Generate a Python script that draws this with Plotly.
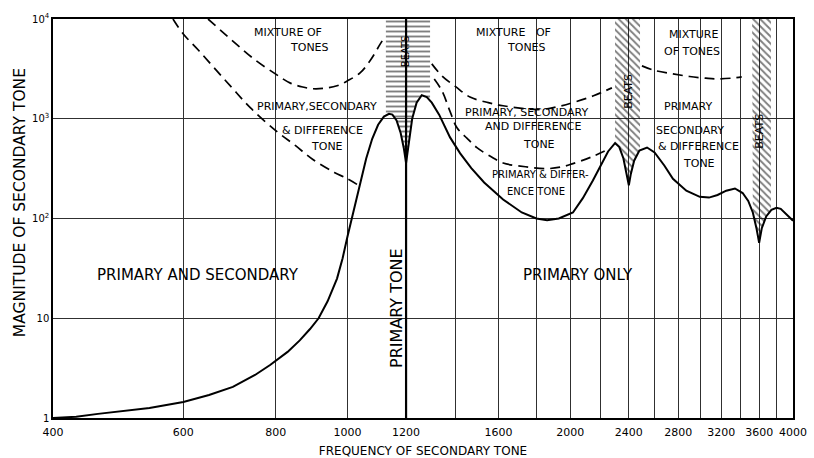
import numpy as np
import plotly.graph_objects as go

# ---------------- data ----------------
# Masking curve (solid): frequency of secondary tone (Hz) vs magnitude
SOLID_F = [400, 430, 460, 500, 540, 600, 650, 700, 750, 786, 830, 862, 890, 914, 940, 968,
           985, 1000, 1015, 1030, 1045, 1060, 1080, 1100, 1120, 1138, 1150, 1165, 1180, 1192,
           1200, 1207, 1214, 1223, 1240, 1260, 1280, 1300, 1330, 1376, 1420, 1470, 1530, 1623,
           1720, 1800, 1861, 1930, 2017, 2080, 2146, 2200, 2250, 2299, 2330, 2360, 2385, 2400,
           2415, 2440, 2480, 2540, 2600, 2680, 2753, 2870, 2993, 3080, 3163, 3250, 3339, 3420,
           3480, 3530, 3570, 3600, 3630, 3680, 3740, 3800, 3850, 3920, 4000]
SOLID_M = [1.0, 1.03, 1.1, 1.17, 1.26, 1.45, 1.7, 2.05, 2.7, 3.4, 4.6, 6.0, 7.8, 10, 14.8, 25,
           40, 66, 105, 166, 263, 400, 630, 870, 1050, 1120, 1100, 960, 720, 500,
           360, 480, 650, 1000, 1450, 1720, 1650, 1450, 1100, 650, 450, 320, 230, 155,
           115, 100, 96, 100, 115, 160, 240, 340, 470, 570, 520, 400, 280, 215,
           280, 380, 480, 515, 460, 340, 250, 190, 165, 162, 172, 190, 200, 180,
           150, 115, 80, 57, 80, 105, 122, 128, 125, 110, 95]

# Dashed boundaries
MIX_LEFT_F = [648, 700, 750, 800, 836, 870, 898, 930, 968, 1000, 1040, 1075, 1107, 1118]
MIX_LEFT_M = [10000, 6000, 3900, 2800, 2290, 2080, 2000, 2020, 2140, 2400, 2880, 3900, 5600, 6300]

PSD_LEFT_F = [581, 600, 630, 666, 700, 739, 800, 850, 898, 960, 1000, 1035]
PSD_LEFT_M = [10000, 7080, 4800, 3020, 2000, 1290, 760, 540, 390, 290, 250, 215]

MIX_MID_F = [1300, 1342, 1400, 1464, 1550, 1623, 1720, 1830, 1930, 2017, 2150, 2277]
MIX_MID_M = [3550, 2690, 2100, 1650, 1450, 1350, 1270, 1240, 1330, 1450, 1700, 2040]

PSD_MID_F = [1310, 1342, 1375, 1406, 1450, 1496, 1560, 1623, 1740, 1861, 1950, 2017, 2130, 2260]
PSD_MID_M = [2500, 1900, 1200, 813, 640, 513, 420, 360, 330, 316, 330, 355, 410, 500]

MIX_RIGHT_F = [2500, 2600, 2753, 2900, 3050, 3150, 3300, 3410]
MIX_RIGHT_M = [3390, 3050, 2820, 2650, 2550, 2510, 2550, 2630]

# "Beats" bands (frequency limits)
BEAT_BANDS = [(1127, 1293), (2299, 2485), (3522, 3735)]
BEAT_PATTERNS = ["-", "\\", "\\"]

PRIMARY_FREQ = 1200

X_TICKS = [400, 600, 800, 1000, 1200, 1600, 2000, 2400, 2800, 3200, 3600, 4000]
X_TICK_TEXT = ["400", "600", "800", "1000", "1200", "1600", "2000", "2400",
               "2800", "3200", "3600", "4000"]
X_MINOR_GRID = [1400, 1800, 2200, 2600, 3000, 3400, 3800]
Y_TICKS = [1, 10, 100, 1000, 10000]
Y_TICK_TEXT = ["1", "10", "10<sup>2</sup>", "10<sup>3</sup>", "10<sup>4</sup>"]

FONT = "DejaVu Sans"

# ---------------- figure ----------------
fig = go.Figure()


def curve_at(f):
    return 10 ** np.interp(np.log10(f), np.log10(SOLID_F), np.log10(SOLID_M))


# hatched beat regions
for (fl, fr), pat in zip(BEAT_BANDS, BEAT_PATTERNS):
    inner = [f for f in SOLID_F if fl < f < fr]
    xs = [fl, fl] + inner + [fr, fr, fl]
    ys = [10000, curve_at(fl)] + [curve_at(f) for f in inner] + [curve_at(fr), 10000, 10000]
    fig.add_trace(go.Scatter(
        x=xs, y=ys, mode="lines", fill="toself",
        fillcolor="rgba(255,255,255,0)",
        fillpattern=dict(shape=pat, fgcolor="black", bgcolor="rgba(255,255,255,0)",
                         size=5, solidity=0.38),
        line=dict(width=0, color="rgba(0,0,0,0)"),
        hoverinfo="skip", showlegend=False))

# primary tone line
fig.add_trace(go.Scatter(x=[PRIMARY_FREQ, PRIMARY_FREQ], y=[1, 10000], mode="lines",
                         line=dict(color="black", width=2.2), showlegend=False,
                         hoverinfo="skip"))

# dashed boundaries
for fx, my in [(MIX_LEFT_F, MIX_LEFT_M), (PSD_LEFT_F, PSD_LEFT_M), (MIX_MID_F, MIX_MID_M),
               (PSD_MID_F, PSD_MID_M), (MIX_RIGHT_F, MIX_RIGHT_M)]:
    fig.add_trace(go.Scatter(x=fx, y=my, mode="lines", line_shape="spline",
                             line=dict(color="black", width=1.7, dash="10px,6px"),
                             showlegend=False))

# masking curve
fig.add_trace(go.Scatter(x=SOLID_F, y=SOLID_M, mode="lines",
                         line=dict(color="black", width=2.0), showlegend=False))

# ---------------- annotations (x: log10 Hz, y: log10 magnitude) ----------------
labels = [
    ("MIXTURE OF", 2.920, 3.86, 11, 0),
    ("TONES", 2.949, 3.71, 11, 0),
    ("PRIMARY,SECONDARY", 2.959, 3.12, 11, 0),
    ("&amp; DIFFERENCE", 2.966, 2.88, 11, 0),
    ("TONE", 2.972, 2.72, 11, 0),
    ("MIXTURE   OF", 3.225, 3.86, 11, 0),
    ("TONES", 3.2425, 3.71, 11, 0),
    ("PRIMARY, SECONDARY", 3.2425, 3.06, 11, 0),
    ("AND DIFFERENCE", 3.251, 2.92, 11, 0),
    ("TONE", 3.2585, 2.74, 11, 0),
    ("PRIMARY &amp; DIFFER-", 3.2615, 2.44, 10, 0),
    ("ENCE TONE", 3.2545, 2.27, 10, 0),
    ("MIXTURE", 3.468, 3.84, 11, 0),
    ("OF TONES", 3.465, 3.67, 11, 0),
    ("PRIMARY", 3.460, 3.12, 11, 0),
    ("SECONDARY", 3.463, 2.88, 11, 0),
    ("&amp; DIFFERENCE", 3.474, 2.72, 11, 0),
    ("TONE", 3.475, 2.55, 11, 0),
    ("PRIMARY AND SECONDARY", 2.7986, 1.43, 15, 0),
    ("PRIMARY ONLY", 3.3115, 1.43, 15, 0),
    ("PRIMARY TONE", 3.0669, 1.103, 16, -90),
    ("BEATS", 3.0795, 3.68, 10, -90),
    ("BEATS", 3.3805, 3.27, 11, -90),
    ("BEATS", 3.5575, 2.87, 11, -90),
]
for txt, lx, ly, sz, ang in labels:
    fig.add_annotation(x=lx, y=ly, xref="x", yref="y", text=txt, showarrow=False,
                       textangle=ang, font=dict(family=FONT, size=sz, color="black"))

# y-axis title as annotation
fig.add_annotation(x=-0.0446, y=0.541, xref="paper", yref="paper",
                   text="MAGNITUDE OF SECONDARY TONE", showarrow=False, textangle=-90,
                   xanchor="center", yanchor="middle",
                   font=dict(family=FONT, size=15.5, color="black"))

fig.update_layout(
    width=814, height=458,
    margin=dict(l=53, r=21, t=19, b=40),
    paper_bgcolor="white", plot_bgcolor="white",
    showlegend=False,
    font=dict(family=FONT, color="black"),
    xaxis=dict(type="log", range=[np.log10(400), np.log10(4000)],
               tickvals=X_TICKS, ticktext=X_TICK_TEXT, ticks="", automargin=False,
               ticklabelstandoff=3,
               showgrid=True, gridcolor="#303030", gridwidth=1,
               minor=dict(tickvals=X_MINOR_GRID, showgrid=True, gridcolor="#303030",
                          gridwidth=1, ticks=""),
               showline=True, linecolor="black", linewidth=1.5, mirror=True,
               zeroline=False, tickfont=dict(size=11, family=FONT),
               title=dict(text="FREQUENCY OF SECONDARY TONE", standoff=10,
                          font=dict(size=12, family=FONT))),
    yaxis=dict(type="log", range=[0, 4], automargin=False,
               tickvals=Y_TICKS, ticktext=Y_TICK_TEXT, ticks="",
               showgrid=True, gridcolor="#303030", gridwidth=1,
               showline=True, linecolor="black", linewidth=1.5, mirror=True,
               zeroline=False, tickfont=dict(size=10, family=FONT)),
)

fig.write_html("out.html", config={"displayModeBar": False},
               post_script="document.body.style.margin='0px';document.body.style.padding='0px';")
